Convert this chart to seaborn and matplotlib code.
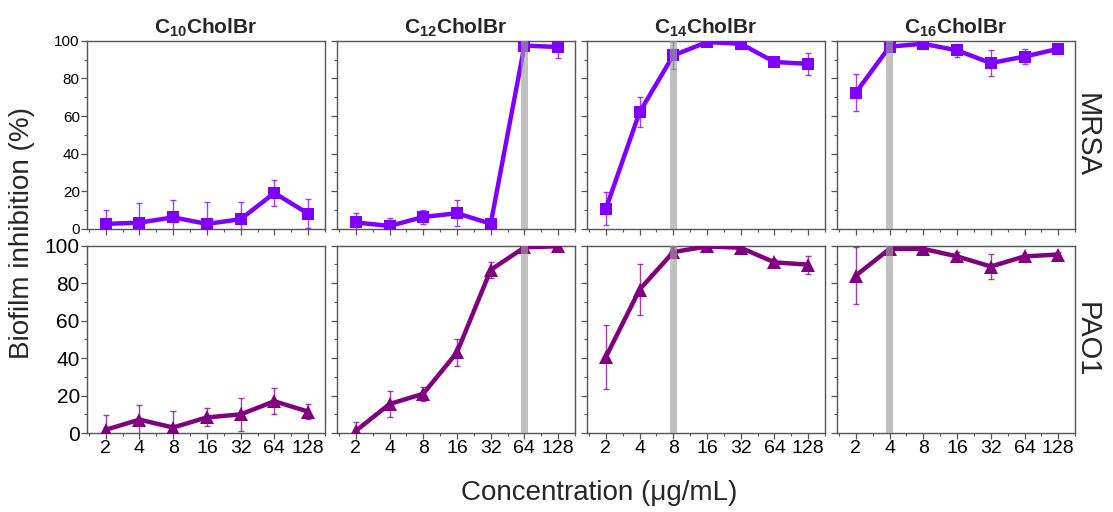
import numpy as np
import pandas as pd
import seaborn as sns
from matplotlib import pyplot as plt
from matplotlib.ticker import MultipleLocator

# concentrations (ug/mL) on the x axis
conc = [2, 4, 8, 16, 32, 64, 128]
compounds = ["C$_{10}$CholBr", "C$_{12}$CholBr", "C$_{14}$CholBr", "C$_{16}$CholBr"]
strains = ["MRSA", "PAO1"]

# MRSA biofilm inhibition (%) and error
mrsa_c10 = [2.5, 3.2, 6.0, 2.5, 5.0, 19.0, 8.0]
mrsa_c10_err = [7.4, 10.7, 9.0, 11.5, 9.0, 7.0, 7.6]
mrsa_c12 = [3.3, 1.4, 6.2, 8.2, 2.6, 97.5, 96.8]
mrsa_c12_err = [5.0, 4.5, 3.8, 7.0, 2.0, 1.0, 6.0]
mrsa_c14 = [10.5, 62.0, 92.3, 99.4, 98.5, 88.8, 87.8]
mrsa_c14_err = [8.8, 8.0, 7.5, 1.0, 1.5, 1.5, 5.8]
mrsa_c16 = [72.5, 97.0, 98.5, 95.0, 88.2, 91.7, 95.8]
mrsa_c16_err = [10.0, 1.5, 1.5, 3.5, 7.0, 4.0, 1.5]

# PAO1 biofilm inhibition (%) and error
pao1_c10 = [1.8, 7.2, 3.0, 8.4, 10.0, 17.0, 11.5]
pao1_c10_err = [7.8, 7.6, 8.8, 4.8, 8.8, 6.8, 3.8]
pao1_c12 = [1.2, 15.5, 21.0, 43.0, 87.0, 99.0, 99.6]
pao1_c12_err = [4.8, 7.0, 3.6, 7.0, 4.4, 1.5, 0.5]
pao1_c14 = [40.5, 76.5, 96.5, 99.5, 98.8, 91.0, 89.8]
pao1_c14_err = [17.2, 13.8, 2.5, 0.8, 1.0, 2.0, 4.8]
pao1_c16 = [84.0, 98.2, 98.2, 94.2, 88.8, 94.2, 95.2]
pao1_c16_err = [15.0, 1.0, 1.0, 2.5, 6.8, 1.5, 1.5]

# MIC marked with grey band (None = no band)
mic = [None, 64, 8, 4]

values = {
    "MRSA": [mrsa_c10, mrsa_c12, mrsa_c14, mrsa_c16],
    "PAO1": [pao1_c10, pao1_c12, pao1_c14, pao1_c16],
}
errors = {
    "MRSA": [mrsa_c10_err, mrsa_c12_err, mrsa_c14_err, mrsa_c16_err],
    "PAO1": [pao1_c10_err, pao1_c12_err, pao1_c14_err, pao1_c16_err],
}
colors = {"MRSA": "#7f00ff", "PAO1": "#800080"}
markers = {"MRSA": "s", "PAO1": "^"}
msizes = {"MRSA": 8.5, "PAO1": 10.5}

sns.set_style("ticks")
plt.rcParams["font.family"] = ["Liberation Sans", "DejaVu Sans"]
plt.rcParams["mathtext.default"] = "regular"
plt.rcParams["axes.edgecolor"] = "#555555"
plt.rcParams["xtick.color"] = "#555555"
plt.rcParams["ytick.color"] = "#555555"
plt.rcParams["xtick.labelcolor"] = "black"
plt.rcParams["ytick.labelcolor"] = "black"

fig, axes = plt.subplots(2, 4, figsize=(11.13, 5.12), dpi=100)
fig.subplots_adjust(left=0.078, right=0.966, bottom=0.154, top=0.92,
                    wspace=0.05, hspace=0.09)

pos = np.arange(len(conc))

for r, strain in enumerate(strains):
    for c in range(4):
        ax = axes[r, c]
        df = pd.DataFrame({"pos": pos, "val": values[strain][c]})
        sns.lineplot(data=df, x="pos", y="val", ax=ax, color=colors[strain],
                     lw=3.2, marker=markers[strain], markersize=msizes[strain],
                     markeredgewidth=0, zorder=3)
        ax.errorbar(pos, values[strain][c], yerr=errors[strain][c], fmt="none",
                    ecolor=colors[strain], elinewidth=1.0, capsize=2.2,
                    capthick=1.0, alpha=0.75, zorder=2)
        if mic[c] is not None:
            p = conc.index(mic[c])
            ax.axvspan(p - 0.1, p + 0.1, color="#a0a0a0", alpha=0.65,
                       lw=0, zorder=4)
        ax.set_xlim(-0.56, 6.5)
        ax.set_ylim(0, 100)
        ax.set_xticks(pos)
        ax.xaxis.set_minor_locator(MultipleLocator(0.5))
        ax.yaxis.set_major_locator(MultipleLocator(20))
        ax.yaxis.set_minor_locator(MultipleLocator(10))
        ax.tick_params(which="major", direction="out", length=4, width=0.9)
        ax.tick_params(which="minor", direction="out", length=2.5, width=0.8)
        ax.set_xlabel("")
        ax.set_ylabel("")
        for sp in ax.spines.values():
            sp.set_linewidth(1.0)
        if r == 0:
            ax.set_xticklabels([])
            ax.set_title(compounds[c], fontsize=15, fontweight="bold", pad=5)
        else:
            ax.set_xticklabels([str(v) for v in conc], fontsize=14)
            ax.tick_params(axis="x", pad=1)
        if c == 0:
            ax.tick_params(axis="y", labelsize=11 if r == 0 else 15, pad=1)
        else:
            ax.set_yticklabels([])
    axes[r, 3].yaxis.set_label_position("right")
    axes[r, 3].set_ylabel(strain, fontsize=21, rotation=270, labelpad=18)

fig.text(0.02, 0.545, "Biofilm inhibition (%)", rotation=90, fontsize=20,
         ha="center", va="center")
fig.text(0.538, 0.037, "Concentration (\u03bcg/mL)", fontsize=20,
         ha="center", va="center")

plt.savefig("out.png", dpi=100)
